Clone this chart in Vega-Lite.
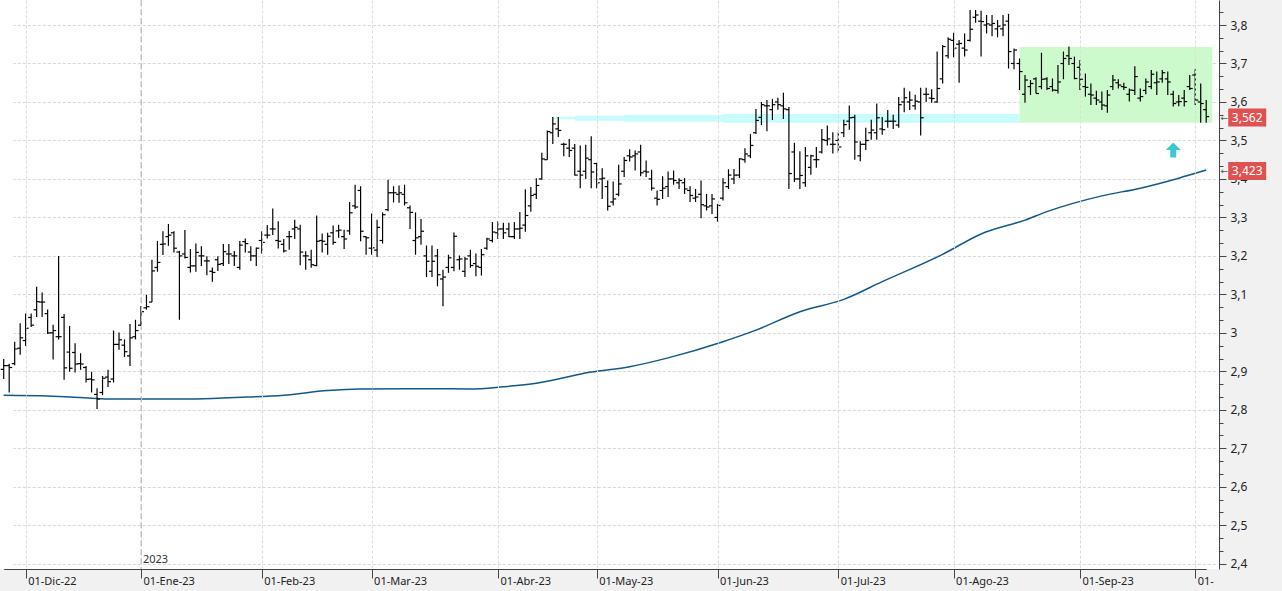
{
  "$schema": "https://vega.github.io/schema/vega-lite/v6.json",
  "width": 1219,
  "height": 569,
  "autosize": {"type": "none"},
  "padding": {"left": 0, "top": 0, "right": 63, "bottom": 22},
  "background": "#f1f1f2",
  "config": {"view": {"fill": "#ffffff", "stroke": null}},
  "data": {"name": "ohlc", "values": [
    {"d":"2022-11-25","o":2.905,"h":2.932,"l":2.880,"c":2.915},
    {"d":"2022-11-28","o":2.915,"h":2.920,"l":2.845,"c":2.910},
    {"d":"2022-11-29","o":2.920,"h":2.977,"l":2.916,"c":2.958},
    {"d":"2022-11-30","o":2.960,"h":3.025,"l":2.943,"c":2.987},
    {"d":"2022-12-01","o":2.980,"h":3.050,"l":2.966,"c":3.012},
    {"d":"2022-12-02","o":3.040,"h":3.050,"l":3.015,"c":3.020},
    {"d":"2022-12-05","o":3.060,"h":3.120,"l":3.041,"c":3.081},
    {"d":"2022-12-06","o":3.080,"h":3.105,"l":3.041,"c":3.080},
    {"d":"2022-12-07","o":3.050,"h":3.061,"l":2.997,"c":3.000},
    {"d":"2022-12-08","o":3.000,"h":3.021,"l":2.931,"c":3.006},
    {"d":"2022-12-09","o":2.990,"h":3.200,"l":2.983,"c":2.990},
    {"d":"2022-12-12","o":3.040,"h":3.049,"l":2.878,"c":2.909},
    {"d":"2022-12-13","o":2.950,"h":3.018,"l":2.899,"c":2.908},
    {"d":"2022-12-14","o":2.949,"h":2.973,"l":2.897,"c":2.919},
    {"d":"2022-12-15","o":2.920,"h":2.947,"l":2.904,"c":2.919},
    {"d":"2022-12-16","o":2.910,"h":2.914,"l":2.871,"c":2.879},
    {"d":"2022-12-19","o":2.880,"h":2.899,"l":2.845,"c":2.878},
    {"d":"2022-12-20","o":2.840,"h":2.856,"l":2.802,"c":2.828},
    {"d":"2022-12-21","o":2.845,"h":2.888,"l":2.838,"c":2.882},
    {"d":"2022-12-22","o":2.885,"h":2.904,"l":2.859,"c":2.873},
    {"d":"2022-12-23","o":2.880,"h":3.006,"l":2.871,"c":2.970},
    {"d":"2022-12-27","o":2.970,"h":3.001,"l":2.956,"c":2.982},
    {"d":"2022-12-28","o":2.968,"h":2.983,"l":2.937,"c":2.951},
    {"d":"2022-12-29","o":2.940,"h":3.023,"l":2.914,"c":2.987},
    {"d":"2022-12-30","o":2.990,"h":3.034,"l":2.983,"c":3.006},
    {"d":"2023-01-02","o":3.020,"h":3.070,"l":3.018,"c":3.055},
    {"d":"2023-01-03","o":3.065,"h":3.099,"l":3.060,"c":3.068},
    {"d":"2023-01-04","o":3.080,"h":3.190,"l":3.080,"c":3.161},
    {"d":"2023-01-05","o":3.170,"h":3.239,"l":3.159,"c":3.183},
    {"d":"2023-01-06","o":3.230,"h":3.264,"l":3.202,"c":3.231},
    {"d":"2023-01-09","o":3.250,"h":3.283,"l":3.226,"c":3.254},
    {"d":"2023-01-10","o":3.260,"h":3.264,"l":3.209,"c":3.220},
    {"d":"2023-01-11","o":3.210,"h":3.213,"l":3.034,"c":3.200},
    {"d":"2023-01-12","o":3.205,"h":3.267,"l":3.193,"c":3.196},
    {"d":"2023-01-13","o":3.170,"h":3.218,"l":3.157,"c":3.174},
    {"d":"2023-01-16","o":3.174,"h":3.232,"l":3.159,"c":3.209},
    {"d":"2023-01-17","o":3.200,"h":3.225,"l":3.174,"c":3.200},
    {"d":"2023-01-18","o":3.187,"h":3.199,"l":3.150,"c":3.187},
    {"d":"2023-01-19","o":3.160,"h":3.170,"l":3.133,"c":3.157},
    {"d":"2023-01-20","o":3.190,"h":3.199,"l":3.161,"c":3.178},
    {"d":"2023-01-23","o":3.180,"h":3.231,"l":3.174,"c":3.211},
    {"d":"2023-01-24","o":3.205,"h":3.231,"l":3.179,"c":3.205},
    {"d":"2023-01-25","o":3.200,"h":3.213,"l":3.174,"c":3.200},
    {"d":"2023-01-26","o":3.170,"h":3.239,"l":3.164,"c":3.228},
    {"d":"2023-01-27","o":3.237,"h":3.245,"l":3.209,"c":3.232},
    {"d":"2023-01-30","o":3.210,"h":3.225,"l":3.187,"c":3.200},
    {"d":"2023-01-31","o":3.200,"h":3.222,"l":3.174,"c":3.220},
    {"d":"2023-02-01","o":3.240,"h":3.264,"l":3.206,"c":3.235},
    {"d":"2023-02-02","o":3.254,"h":3.280,"l":3.245,"c":3.254},
    {"d":"2023-02-03","o":3.270,"h":3.323,"l":3.254,"c":3.270},
    {"d":"2023-02-06","o":3.240,"h":3.290,"l":3.219,"c":3.238},
    {"d":"2023-02-07","o":3.230,"h":3.244,"l":3.209,"c":3.213},
    {"d":"2023-02-08","o":3.250,"h":3.265,"l":3.216,"c":3.250},
    {"d":"2023-02-09","o":3.270,"h":3.294,"l":3.244,"c":3.274},
    {"d":"2023-02-10","o":3.270,"h":3.281,"l":3.176,"c":3.210},
    {"d":"2023-02-13","o":3.200,"h":3.212,"l":3.164,"c":3.200},
    {"d":"2023-02-14","o":3.190,"h":3.216,"l":3.169,"c":3.177},
    {"d":"2023-02-15","o":3.175,"h":3.305,"l":3.173,"c":3.238},
    {"d":"2023-02-16","o":3.240,"h":3.258,"l":3.209,"c":3.238},
    {"d":"2023-02-17","o":3.230,"h":3.260,"l":3.203,"c":3.251},
    {"d":"2023-02-20","o":3.260,"h":3.279,"l":3.229,"c":3.235},
    {"d":"2023-02-21","o":3.265,"h":3.281,"l":3.247,"c":3.267},
    {"d":"2023-02-22","o":3.250,"h":3.268,"l":3.218,"c":3.244},
    {"d":"2023-02-23","o":3.265,"h":3.340,"l":3.255,"c":3.312},
    {"d":"2023-02-24","o":3.330,"h":3.385,"l":3.322,"c":3.327},
    {"d":"2023-02-27","o":3.370,"h":3.381,"l":3.238,"c":3.264},
    {"d":"2023-02-28","o":3.250,"h":3.251,"l":3.203,"c":3.247},
    {"d":"2023-03-01","o":3.220,"h":3.310,"l":3.203,"c":3.221},
    {"d":"2023-03-02","o":3.215,"h":3.294,"l":3.197,"c":3.274},
    {"d":"2023-03-03","o":3.240,"h":3.313,"l":3.232,"c":3.307},
    {"d":"2023-03-06","o":3.320,"h":3.398,"l":3.316,"c":3.364},
    {"d":"2023-03-07","o":3.364,"h":3.381,"l":3.339,"c":3.364},
    {"d":"2023-03-08","o":3.360,"h":3.383,"l":3.338,"c":3.364},
    {"d":"2023-03-09","o":3.360,"h":3.385,"l":3.331,"c":3.338},
    {"d":"2023-03-10","o":3.325,"h":3.331,"l":3.270,"c":3.313},
    {"d":"2023-03-13","o":3.240,"h":3.313,"l":3.203,"c":3.247},
    {"d":"2023-03-14","o":3.250,"h":3.296,"l":3.229,"c":3.264},
    {"d":"2023-03-15","o":3.200,"h":3.227,"l":3.145,"c":3.186},
    {"d":"2023-03-16","o":3.160,"h":3.227,"l":3.145,"c":3.186},
    {"d":"2023-03-17","o":3.200,"h":3.218,"l":3.121,"c":3.151},
    {"d":"2023-03-20","o":3.140,"h":3.164,"l":3.069,"c":3.145},
    {"d":"2023-03-21","o":3.170,"h":3.203,"l":3.156,"c":3.195},
    {"d":"2023-03-22","o":3.170,"h":3.261,"l":3.160,"c":3.251},
    {"d":"2023-03-23","o":3.190,"h":3.201,"l":3.164,"c":3.192},
    {"d":"2023-03-24","o":3.160,"h":3.197,"l":3.145,"c":3.192},
    {"d":"2023-03-27","o":3.200,"h":3.216,"l":3.169,"c":3.175},
    {"d":"2023-03-28","o":3.180,"h":3.206,"l":3.147,"c":3.173},
    {"d":"2023-03-29","o":3.170,"h":3.218,"l":3.149,"c":3.203},
    {"d":"2023-03-30","o":3.220,"h":3.247,"l":3.216,"c":3.244},
    {"d":"2023-03-31","o":3.240,"h":3.288,"l":3.235,"c":3.262},
    {"d":"2023-04-03","o":3.260,"h":3.290,"l":3.244,"c":3.270},
    {"d":"2023-04-04","o":3.270,"h":3.286,"l":3.244,"c":3.260},
    {"d":"2023-04-05","o":3.270,"h":3.286,"l":3.249,"c":3.250},
    {"d":"2023-04-06","o":3.250,"h":3.288,"l":3.244,"c":3.270},
    {"d":"2023-04-11","o":3.270,"h":3.314,"l":3.244,"c":3.272},
    {"d":"2023-04-12","o":3.280,"h":3.373,"l":3.263,"c":3.305},
    {"d":"2023-04-13","o":3.330,"h":3.379,"l":3.315,"c":3.357},
    {"d":"2023-04-14","o":3.360,"h":3.402,"l":3.348,"c":3.383},
    {"d":"2023-04-17","o":3.400,"h":3.468,"l":3.398,"c":3.452},
    {"d":"2023-04-18","o":3.450,"h":3.526,"l":3.450,"c":3.523},
    {"d":"2023-04-19","o":3.520,"h":3.561,"l":3.491,"c":3.543},
    {"d":"2023-04-20","o":3.530,"h":3.561,"l":3.509,"c":3.526},
    {"d":"2023-04-21","o":3.490,"h":3.494,"l":3.459,"c":3.490},
    {"d":"2023-04-24","o":3.480,"h":3.504,"l":3.457,"c":3.474},
    {"d":"2023-04-25","o":3.480,"h":3.491,"l":3.409,"c":3.410},
    {"d":"2023-04-26","o":3.420,"h":3.487,"l":3.376,"c":3.410},
    {"d":"2023-04-27","o":3.420,"h":3.489,"l":3.400,"c":3.454},
    {"d":"2023-04-28","o":3.450,"h":3.511,"l":3.376,"c":3.418},
    {"d":"2023-05-02","o":3.440,"h":3.442,"l":3.376,"c":3.390},
    {"d":"2023-05-03","o":3.400,"h":3.428,"l":3.348,"c":3.402},
    {"d":"2023-05-04","o":3.380,"h":3.396,"l":3.318,"c":3.329},
    {"d":"2023-05-05","o":3.340,"h":3.393,"l":3.331,"c":3.348},
    {"d":"2023-05-08","o":3.360,"h":3.437,"l":3.355,"c":3.387},
    {"d":"2023-05-09","o":3.420,"h":3.457,"l":3.405,"c":3.448},
    {"d":"2023-05-10","o":3.460,"h":3.477,"l":3.445,"c":3.457},
    {"d":"2023-05-11","o":3.460,"h":3.474,"l":3.422,"c":3.465},
    {"d":"2023-05-12","o":3.470,"h":3.489,"l":3.407,"c":3.416},
    {"d":"2023-05-15","o":3.420,"h":3.448,"l":3.405,"c":3.418},
    {"d":"2023-05-16","o":3.400,"h":3.424,"l":3.370,"c":3.376},
    {"d":"2023-05-17","o":3.350,"h":3.370,"l":3.331,"c":3.347},
    {"d":"2023-05-18","o":3.370,"h":3.407,"l":3.348,"c":3.376},
    {"d":"2023-05-19","o":3.380,"h":3.419,"l":3.353,"c":3.400},
    {"d":"2023-05-22","o":3.400,"h":3.422,"l":3.385,"c":3.396},
    {"d":"2023-05-23","o":3.390,"h":3.402,"l":3.374,"c":3.396},
    {"d":"2023-05-24","o":3.390,"h":3.402,"l":3.361,"c":3.374},
    {"d":"2023-05-25","o":3.370,"h":3.381,"l":3.340,"c":3.357},
    {"d":"2023-05-26","o":3.350,"h":3.374,"l":3.340,"c":3.353},
    {"d":"2023-05-29","o":3.360,"h":3.396,"l":3.298,"c":3.333},
    {"d":"2023-05-30","o":3.330,"h":3.361,"l":3.318,"c":3.327},
    {"d":"2023-05-31","o":3.330,"h":3.361,"l":3.309,"c":3.348},
    {"d":"2023-06-01","o":3.300,"h":3.335,"l":3.289,"c":3.331},
    {"d":"2023-06-02","o":3.350,"h":3.402,"l":3.344,"c":3.390},
    {"d":"2023-06-05","o":3.380,"h":3.425,"l":3.374,"c":3.410},
    {"d":"2023-06-06","o":3.400,"h":3.426,"l":3.387,"c":3.410},
    {"d":"2023-06-07","o":3.410,"h":3.454,"l":3.402,"c":3.452},
    {"d":"2023-06-08","o":3.450,"h":3.480,"l":3.442,"c":3.465},
    {"d":"2023-06-09","o":3.460,"h":3.517,"l":3.454,"c":3.487},
    {"d":"2023-06-12","o":3.520,"h":3.582,"l":3.517,"c":3.552},
    {"d":"2023-06-13","o":3.560,"h":3.600,"l":3.540,"c":3.593},
    {"d":"2023-06-14","o":3.590,"h":3.605,"l":3.524,"c":3.590},
    {"d":"2023-06-15","o":3.580,"h":3.608,"l":3.553,"c":3.593},
    {"d":"2023-06-16","o":3.600,"h":3.611,"l":3.580,"c":3.593},
    {"d":"2023-06-19","o":3.590,"h":3.624,"l":3.556,"c":3.582},
    {"d":"2023-06-20","o":3.580,"h":3.587,"l":3.374,"c":3.414},
    {"d":"2023-06-21","o":3.470,"h":3.494,"l":3.392,"c":3.400},
    {"d":"2023-06-22","o":3.400,"h":3.472,"l":3.374,"c":3.409},
    {"d":"2023-06-23","o":3.390,"h":3.483,"l":3.380,"c":3.460},
    {"d":"2023-06-26","o":3.430,"h":3.463,"l":3.411,"c":3.460},
    {"d":"2023-06-27","o":3.450,"h":3.483,"l":3.429,"c":3.450},
    {"d":"2023-06-28","o":3.470,"h":3.530,"l":3.466,"c":3.502},
    {"d":"2023-06-29","o":3.500,"h":3.539,"l":3.487,"c":3.504},
    {"d":"2023-06-30","o":3.490,"h":3.521,"l":3.466,"c":3.490},
    {"d":"2023-07-03","o":3.500,"h":3.521,"l":3.468,"c":3.483},
    {"d":"2023-07-04","o":3.520,"h":3.554,"l":3.509,"c":3.541},
    {"d":"2023-07-05","o":3.550,"h":3.591,"l":3.528,"c":3.559},
    {"d":"2023-07-06","o":3.560,"h":3.567,"l":3.450,"c":3.496},
    {"d":"2023-07-07","o":3.460,"h":3.498,"l":3.446,"c":3.490},
    {"d":"2023-07-10","o":3.490,"h":3.533,"l":3.475,"c":3.500},
    {"d":"2023-07-11","o":3.520,"h":3.554,"l":3.502,"c":3.527},
    {"d":"2023-07-12","o":3.520,"h":3.596,"l":3.502,"c":3.559},
    {"d":"2023-07-13","o":3.530,"h":3.561,"l":3.515,"c":3.528},
    {"d":"2023-07-14","o":3.550,"h":3.579,"l":3.533,"c":3.550},
    {"d":"2023-07-17","o":3.550,"h":3.567,"l":3.530,"c":3.550},
    {"d":"2023-07-18","o":3.540,"h":3.613,"l":3.533,"c":3.593},
    {"d":"2023-07-19","o":3.600,"h":3.637,"l":3.573,"c":3.611},
    {"d":"2023-07-20","o":3.600,"h":3.628,"l":3.579,"c":3.605},
    {"d":"2023-07-21","o":3.590,"h":3.619,"l":3.580,"c":3.602},
    {"d":"2023-07-24","o":3.600,"h":3.637,"l":3.513,"c":3.559},
    {"d":"2023-07-25","o":3.620,"h":3.637,"l":3.600,"c":3.620},
    {"d":"2023-07-26","o":3.610,"h":3.633,"l":3.598,"c":3.609},
    {"d":"2023-07-27","o":3.600,"h":3.731,"l":3.598,"c":3.635},
    {"d":"2023-07-28","o":3.660,"h":3.748,"l":3.648,"c":3.744},
    {"d":"2023-07-31","o":3.720,"h":3.768,"l":3.713,"c":3.763},
    {"d":"2023-08-01","o":3.760,"h":3.780,"l":3.716,"c":3.740},
    {"d":"2023-08-02","o":3.750,"h":3.761,"l":3.650,"c":3.752},
    {"d":"2023-08-03","o":3.740,"h":3.778,"l":3.718,"c":3.735},
    {"d":"2023-08-04","o":3.760,"h":3.839,"l":3.757,"c":3.789},
    {"d":"2023-08-07","o":3.820,"h":3.839,"l":3.806,"c":3.826},
    {"d":"2023-08-08","o":3.810,"h":3.837,"l":3.718,"c":3.809},
    {"d":"2023-08-09","o":3.800,"h":3.826,"l":3.778,"c":3.803},
    {"d":"2023-08-10","o":3.800,"h":3.826,"l":3.771,"c":3.804},
    {"d":"2023-08-11","o":3.790,"h":3.813,"l":3.768,"c":3.797},
    {"d":"2023-08-14","o":3.790,"h":3.826,"l":3.771,"c":3.800},
    {"d":"2023-08-15","o":3.810,"h":3.829,"l":3.687,"c":3.731},
    {"d":"2023-08-16","o":3.700,"h":3.739,"l":3.685,"c":3.735},
    {"d":"2023-08-17","o":3.700,"h":3.713,"l":3.631,"c":3.679},
    {"d":"2023-08-18","o":3.620,"h":3.670,"l":3.598,"c":3.657},
    {"d":"2023-08-21","o":3.640,"h":3.657,"l":3.618,"c":3.648},
    {"d":"2023-08-22","o":3.660,"h":3.664,"l":3.622,"c":3.622},
    {"d":"2023-08-23","o":3.640,"h":3.728,"l":3.633,"c":3.659},
    {"d":"2023-08-24","o":3.660,"h":3.664,"l":3.631,"c":3.635},
    {"d":"2023-08-25","o":3.640,"h":3.661,"l":3.627,"c":3.631},
    {"d":"2023-08-28","o":3.630,"h":3.696,"l":3.622,"c":3.652},
    {"d":"2023-08-29","o":3.700,"h":3.731,"l":3.659,"c":3.713},
    {"d":"2023-08-30","o":3.720,"h":3.744,"l":3.696,"c":3.713},
    {"d":"2023-08-31","o":3.700,"h":3.718,"l":3.659,"c":3.661},
    {"d":"2023-09-01","o":3.690,"h":3.709,"l":3.631,"c":3.659},
    {"d":"2023-09-04","o":3.640,"h":3.674,"l":3.614,"c":3.638},
    {"d":"2023-09-05","o":3.620,"h":3.648,"l":3.592,"c":3.618},
    {"d":"2023-09-06","o":3.610,"h":3.629,"l":3.592,"c":3.605},
    {"d":"2023-09-07","o":3.600,"h":3.627,"l":3.579,"c":3.592},
    {"d":"2023-09-08","o":3.590,"h":3.631,"l":3.572,"c":3.618},
    {"d":"2023-09-11","o":3.640,"h":3.670,"l":3.631,"c":3.657},
    {"d":"2023-09-12","o":3.650,"h":3.659,"l":3.635,"c":3.644},
    {"d":"2023-09-13","o":3.640,"h":3.650,"l":3.631,"c":3.638},
    {"d":"2023-09-14","o":3.620,"h":3.635,"l":3.601,"c":3.631},
    {"d":"2023-09-15","o":3.630,"h":3.693,"l":3.618,"c":3.666},
    {"d":"2023-09-18","o":3.610,"h":3.635,"l":3.601,"c":3.614},
    {"d":"2023-09-19","o":3.630,"h":3.661,"l":3.620,"c":3.652},
    {"d":"2023-09-20","o":3.640,"h":3.683,"l":3.633,"c":3.672},
    {"d":"2023-09-21","o":3.650,"h":3.679,"l":3.618,"c":3.652},
    {"d":"2023-09-22","o":3.660,"h":3.683,"l":3.650,"c":3.676},
    {"d":"2023-09-25","o":3.660,"h":3.679,"l":3.618,"c":3.652},
    {"d":"2023-09-26","o":3.620,"h":3.629,"l":3.588,"c":3.596},
    {"d":"2023-09-27","o":3.600,"h":3.618,"l":3.589,"c":3.601},
    {"d":"2023-09-28","o":3.610,"h":3.631,"l":3.588,"c":3.601},
    {"d":"2023-09-29","o":3.640,"h":3.670,"l":3.631,"c":3.635},
    {"d":"2023-10-02","o":3.670,"h":3.685,"l":3.592,"c":3.605},
    {"d":"2023-10-03","o":3.600,"h":3.648,"l":3.546,"c":3.596},
    {"d":"2023-10-04","o":3.580,"h":3.605,"l":3.546,"c":3.562}
  ]},
  "datasets": {
    "ma": [
      {"d":"2022-11-25","v":2.838},{"d":"2022-12-07","v":2.836},{"d":"2022-12-19","v":2.830},{"d":"2022-12-22","v":2.828},
      {"d":"2023-01-13","v":2.828},{"d":"2023-01-25","v":2.832},{"d":"2023-02-07","v":2.838},{"d":"2023-02-17","v":2.850},
      {"d":"2023-02-27","v":2.854},{"d":"2023-03-15","v":2.855},{"d":"2023-03-27","v":2.854},{"d":"2023-04-04","v":2.860},
      {"d":"2023-04-14","v":2.869},{"d":"2023-04-28","v":2.898},{"d":"2023-05-10","v":2.912},{"d":"2023-05-19","v":2.935},
      {"d":"2023-06-02","v":2.977},{"d":"2023-06-12","v":3.007},{"d":"2023-06-22","v":3.055},{"d":"2023-07-04","v":3.087},
      {"d":"2023-07-13","v":3.133},{"d":"2023-07-28","v":3.204},{"d":"2023-08-08","v":3.257},{"d":"2023-08-18","v":3.293},
      {"d":"2023-08-24","v":3.315},{"d":"2023-09-07","v":3.356},{"d":"2023-09-18","v":3.376},{"d":"2023-09-27","v":3.402},
      {"d":"2023-10-04","v":3.423}
    ],
    "band": [
      {"d":"2023-04-19","top":3.5617,"bot":3.5550},
      {"d":"2023-04-25","top":3.5643,"bot":3.5513},
      {"d":"2023-05-09","top":3.5661,"bot":3.5487},
      {"d":"2023-06-02","top":3.5687,"bot":3.5461},
      {"d":"2023-08-17","top":3.5687,"bot":3.5461}
    ],
    "zone": [{"d1":"2023-08-17","d2":"2023-10-04","top":3.7428,"bot":3.5461}],
    "labels": [
      {"d":"2023-10-04","v":3.562,"t":"3,562"},
      {"d":"2023-10-04","v":3.423,"t":"3,423"}
    ]
  },
  "layer": [
    {
      "data": {"name": "zone"},
      "mark": {"type": "rect", "color": "#cdfacd", "x2Offset": 6},
      "encoding": {
        "x": {
          "field": "d1", "type": "ordinal", "sort": "ascending",
          "scale": {"type": "point", "padding": 0, "range": [3.7, 1206.2]},
          "axis": {
            "title": null,
            "values": ["2022-12-01","2023-01-02","2023-02-01","2023-03-01","2023-04-03","2023-05-02","2023-06-01","2023-07-03","2023-08-01","2023-09-01","2023-10-02"],
            "tickCount": 100,
            "labelExpr": "datum.value === '2023-10-02' ? '01-' : '01-' + ['Ene','Feb','Mar','Abr','May','Jun','Jul','Ago','Sep','Oct','Nov','Dic'][toNumber(substring(datum.value,5,7))-1] + '-' + substring(datum.value,2,4)",
            "labelAngle": 0,
            "labelAlign": "left",
            "labelBaseline": "middle",
            "labelOffset": 2,
            "labelPadding": 3,
            "labelOverlap": false,
            "labelFont": "Noto Sans",
            "labelFontSize": 11,
            "labelColor": "#222222",
            "tickSize": 9,
            "tickColor": "#444444",
            "domainColor": "#444444",
            "grid": true,
            "gridColor": {"condition": {"test": "datum.value === '2023-01-02'", "value": "#c4c4c4"}, "value": "#dcdcdc"},
            "gridDash": {"condition": {"test": "datum.value === '2023-01-02'", "value": [6, 3]}, "value": [3, 2]}
          }
        },
        "x2": {"field": "d2"},
        "y": {
          "field": "top", "type": "quantitative",
          "scale": {"domain": [2.3863, 3.865], "nice": false, "zero": false},
          "axis": {
            "title": null,
            "orient": "right",
            "tickCount": 200,
            "values": [2.4,2.4333,2.4667,2.5,2.5333,2.5667,2.6,2.6333,2.6667,2.7,2.7333,2.7667,2.8,2.8333,2.8667,2.9,2.9333,2.9667,3,3.0333,3.0667,3.1,3.1333,3.1667,3.2,3.2333,3.2667,3.3,3.3333,3.3667,3.4,3.4333,3.4667,3.5,3.5333,3.5667,3.6,3.6333,3.6667,3.7,3.7333,3.7667,3.8,3.8333],
            "labelExpr": "abs(datum.value*10 - round(datum.value*10)) < 0.01 ? replace(format(datum.value, '.1~f'), '.', ',') : ''",
            "labelFont": "Noto Sans",
            "labelFontSize": 12,
            "labelColor": "#222222",
            "labelPadding": 4,
            "labelBaseline": "middle",
            "labelOverlap": false,
            "tickColor": "#444444",
            "domainColor": "#444444",
            "tickSize": {"condition": {"test": "abs(datum.value*10 - round(datum.value*10)) < 0.01", "value": 7}, "value": 4},
            "grid": true,
            "gridColor": "#d8d8d8",
            "gridDash": [3, 2],
            "gridOpacity": {"condition": {"test": "abs(datum.value*10 - round(datum.value*10)) < 0.01", "value": 1}, "value": 0}
          }
        },
        "y2": {"field": "bot"}
      }
    },
    {
      "data": {"name": "band"},
      "mark": {"type": "area", "interpolate": "step-after", "color": "#c8fbfb", "opacity": 1},
      "encoding": {
        "x": {"field": "d", "type": "ordinal", "sort": "ascending", "title": null},
        "y": {"field": "top", "type": "quantitative", "title": null},
        "y2": {"field": "bot"}
      }
    },
    {
      "data": {"values": [{"d": "2023-01-02"}]},
      "mark": {"type": "rule", "color": "#c4c4c4", "strokeDash": [6, 3]},
      "encoding": {"x": {"field": "d", "type": "ordinal", "sort": "ascending", "title": null}}
    },
    {
      "data": {"name": "ma"},
      "mark": {"type": "line", "color": "#11598a", "strokeWidth": 1.5, "interpolate": "monotone"},
      "encoding": {
        "x": {"field": "d", "type": "ordinal", "sort": "ascending", "title": null},
        "y": {"field": "v", "type": "quantitative", "title": null}
      }
    },
    {
      "mark": {"type": "rule", "color": "#000000", "strokeWidth": 1.2},
      "encoding": {
        "x": {"field": "d", "type": "ordinal", "sort": "ascending", "title": null},
        "y": {"field": "l", "type": "quantitative", "title": null},
        "y2": {"field": "h"}
      }
    },
    {
      "mark": {"type": "tick", "orient": "horizontal", "size": 3, "thickness": 1.2, "xOffset": -1.5, "color": "#000000", "opacity": 1},
      "encoding": {
        "x": {"field": "d", "type": "ordinal", "sort": "ascending", "title": null},
        "y": {"field": "o", "type": "quantitative", "title": null}
      }
    },
    {
      "mark": {"type": "tick", "orient": "horizontal", "size": 3, "thickness": 1.2, "xOffset": 1.5, "color": "#000000", "opacity": 1},
      "encoding": {
        "x": {"field": "d", "type": "ordinal", "sort": "ascending", "title": null},
        "y": {"field": "c", "type": "quantitative", "title": null}
      }
    },
    {
      "data": {"values": [{"d": "2023-01-02", "v": 2.41, "t": "2023"}]},
      "mark": {"type": "text", "align": "left", "baseline": "middle", "dx": 2, "font": "Noto Sans", "fontSize": 11, "color": "#333333"},
      "encoding": {
        "x": {"field": "d", "type": "ordinal", "sort": "ascending", "title": null},
        "y": {"field": "v", "type": "quantitative", "title": null},
        "text": {"field": "t"}
      }
    },
    {
      "data": {"values": [{"d": "2023-09-26", "v": 3.475}]},
      "mark": {"type": "point", "shape": "M0,-1 L1,0 L0.4,0 L0.4,1 L-0.4,1 L-0.4,0 L-1,0 Z", "size": 225, "filled": true, "color": "#3cc8cf", "opacity": 1, "strokeWidth": 0},
      "encoding": {
        "x": {"field": "d", "type": "ordinal", "sort": "ascending", "title": null},
        "y": {"field": "v", "type": "quantitative", "title": null}
      }
    },
    {
      "data": {"name": "labels"},
      "mark": {"type": "rect", "color": "#e05252", "xOffset": 22, "x2Offset": 60, "yOffset": -8, "y2Offset": 10},
      "encoding": {
        "x": {"field": "d", "type": "ordinal", "sort": "ascending", "title": null},
        "x2": {"field": "d"},
        "y": {"field": "v", "type": "quantitative", "title": null},
        "y2": {"field": "v"}
      }
    },
    {
      "data": {"name": "labels"},
      "mark": {"type": "text", "align": "center", "baseline": "middle", "dx": 41, "dy": 1, "font": "Noto Sans", "fontSize": 12, "color": "#ffffff"},
      "encoding": {
        "x": {"field": "d", "type": "ordinal", "sort": "ascending", "title": null},
        "y": {"field": "v", "type": "quantitative", "title": null},
        "text": {"field": "t"}
      }
    },
    {
      "data": {"name": "labels"},
      "mark": {"type": "text", "align": "center", "baseline": "middle", "dx": 18, "dy": 1, "font": "DejaVu Sans", "fontSize": 9, "color": "#555555", "text": "←"},
      "encoding": {
        "x": {"field": "d", "type": "ordinal", "sort": "ascending", "title": null},
        "y": {"field": "v", "type": "quantitative", "title": null}
      }
    }
  ]
}
